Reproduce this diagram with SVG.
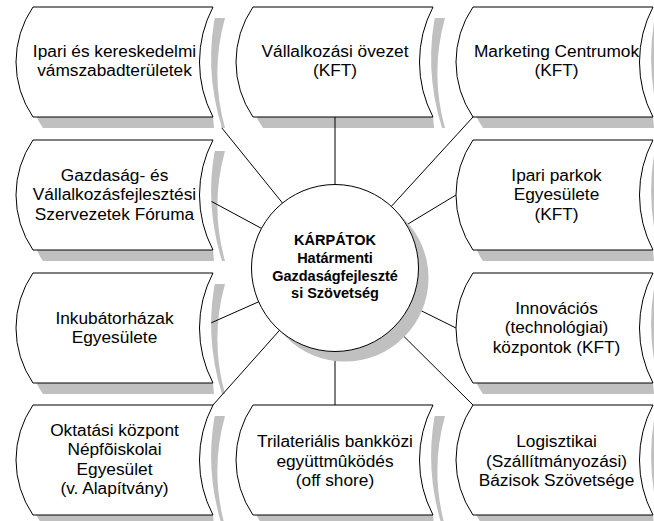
<svg xmlns="http://www.w3.org/2000/svg" xmlns:xlink="http://www.w3.org/1999/xlink" width="654" height="521" viewBox="0 0 654 521">
<style>
.bg{fill:#ffffff}
.sh{fill:#c0c0c0;stroke:none}
.gap{fill:#ffffff;stroke:none}
.nd{fill:#ffffff;stroke:#000000;stroke-width:1}
.cn line{stroke:#000000;stroke-width:1}
.t{font-family:"Liberation Sans",Arial,sans-serif;font-size:17.3px;fill:#000000;text-anchor:middle}
.tb{font-family:"Liberation Sans",Arial,sans-serif;font-size:14.5px;font-weight:bold;fill:#000000;text-anchor:middle}
</style>
<defs>
<path id="shape" d="M0,0 H180 A118.8 118.8 0 0 0 180,110 H0 A97.5 97.5 0 0 1 0,0 Z"/>
<path id="shade" d="M10,11 H192 A205.4 205.4 0 0 0 192,121 H10 A97.5 97.5 0 0 1 10,11 Z"/>
<path id="gapw" d="M180,0 L184,0 Q170,60 189,121 L181,121 L180,110 A118.8 118.8 0 0 1 180,0 Z"/>
</defs>
<rect class="bg" x="0" y="0" width="654" height="521"/>
<g id="shadows">
<use class="sh" xlink:href="#shade" x="33" y="7"/>
<use class="sh" xlink:href="#shade" x="253" y="7"/>
<use class="sh" xlink:href="#shade" x="473" y="7"/>
<use class="sh" xlink:href="#shade" x="33" y="140"/>
<use class="sh" xlink:href="#shade" x="473" y="140"/>
<use class="sh" xlink:href="#shade" x="33" y="273"/>
<use class="sh" xlink:href="#shade" x="473" y="273"/>
<use class="sh" xlink:href="#shade" x="33" y="405"/>
<use class="sh" xlink:href="#shade" x="253" y="405"/>
<use class="sh" xlink:href="#shade" x="473" y="405"/>
</g>
<g id="connectors" class="cn">
<line x1="335" y1="268" x2="335" y2="117"/>
<line x1="335" y1="268" x2="213" y2="117"/>
<line x1="335" y1="268" x2="473" y2="117"/>
<line x1="335" y1="268" x2="199.5" y2="195"/>
<line x1="335" y1="268" x2="456" y2="195"/>
<line x1="335" y1="268" x2="199.5" y2="328"/>
<line x1="335" y1="268" x2="456" y2="328"/>
<line x1="335" y1="268" x2="213" y2="405"/>
<line x1="335" y1="268" x2="473" y2="405"/>
<line x1="335" y1="268" x2="335" y2="405"/>
</g>
<g id="center">
<circle class="sh" cx="345" cy="278" r="83.5"/>
<circle class="nd" cx="335" cy="268" r="83.5"/>
<text class="tb" x="335" y="245">KÁRPÁTOK</text>
<text class="tb" x="335" y="263">Határmenti</text>
<text class="tb" x="335" y="280.5">Gazdaságfejleszté</text>
<text class="tb" x="335" y="298">si Szövetség</text>
</g>
<g id="n1">
<use class="gap" xlink:href="#gapw" x="33" y="7"/>
<use class="nd" xlink:href="#shape" x="33" y="7"/>
<text class="t" x="114.5" y="57">Ipari és kereskedelmi</text>
<text class="t" x="114.5" y="76">vámszabadterületek</text>
</g>
<g id="n2">
<use class="gap" xlink:href="#gapw" x="253" y="7"/>
<use class="nd" xlink:href="#shape" x="253" y="7"/>
<text class="t" x="335" y="57">Vállalkozási övezet</text>
<text class="t" x="335" y="76">(KFT)</text>
</g>
<g id="n3">
<use class="gap" xlink:href="#gapw" x="473" y="7"/>
<use class="nd" xlink:href="#shape" x="473" y="7"/>
<text class="t" x="556.5" y="57">Marketing Centrumok</text>
<text class="t" x="556.5" y="76">(KFT)</text>
</g>
<g id="n4">
<use class="gap" xlink:href="#gapw" x="33" y="140"/>
<use class="nd" xlink:href="#shape" x="33" y="140"/>
<text class="t" x="114.5" y="180.5">Gazdaság- és</text>
<text class="t" x="114.5" y="200">Vállalkozásfejlesztési</text>
<text class="t" x="114.5" y="219.5">Szervezetek Fóruma</text>
</g>
<g id="n5">
<use class="gap" xlink:href="#gapw" x="473" y="140"/>
<use class="nd" xlink:href="#shape" x="473" y="140"/>
<text class="t" x="556.5" y="180.5">Ipari parkok</text>
<text class="t" x="556.5" y="200">Egyesülete</text>
<text class="t" x="556.5" y="219.5">(KFT)</text>
</g>
<g id="n6">
<use class="gap" xlink:href="#gapw" x="33" y="273"/>
<use class="nd" xlink:href="#shape" x="33" y="273"/>
<text class="t" x="114.5" y="323.5">Inkubátorházak</text>
<text class="t" x="114.5" y="343">Egyesülete</text>
</g>
<g id="n7">
<use class="gap" xlink:href="#gapw" x="473" y="273"/>
<use class="nd" xlink:href="#shape" x="473" y="273"/>
<text class="t" x="556.5" y="313.5">Innovációs</text>
<text class="t" x="556.5" y="333">(technológiai)</text>
<text class="t" x="556.5" y="352.5">központok (KFT)</text>
</g>
<g id="n8">
<use class="gap" xlink:href="#gapw" x="33" y="405"/>
<use class="nd" xlink:href="#shape" x="33" y="405"/>
<text class="t" x="114.5" y="435.5">Oktatási központ</text>
<text class="t" x="114.5" y="455">Népfõiskolai</text>
<text class="t" x="114.5" y="474.5">Egyesület</text>
<text class="t" x="114.5" y="494">(v. Alapítvány)</text>
</g>
<g id="n9">
<use class="gap" xlink:href="#gapw" x="253" y="405"/>
<use class="nd" xlink:href="#shape" x="253" y="405"/>
<text class="t" x="335" y="447">Trilateriális bankközi</text>
<text class="t" x="335" y="466.5">együttmûködés</text>
<text class="t" x="335" y="486">(off shore)</text>
</g>
<g id="n10">
<use class="gap" xlink:href="#gapw" x="473" y="405"/>
<use class="nd" xlink:href="#shape" x="473" y="405"/>
<text class="t" x="556.5" y="447">Logisztikai</text>
<text class="t" x="556.5" y="466.5">(Szállítmányozási)</text>
<text class="t" x="556.5" y="486">Bázisok Szövetsége</text>
</g>
</svg>
